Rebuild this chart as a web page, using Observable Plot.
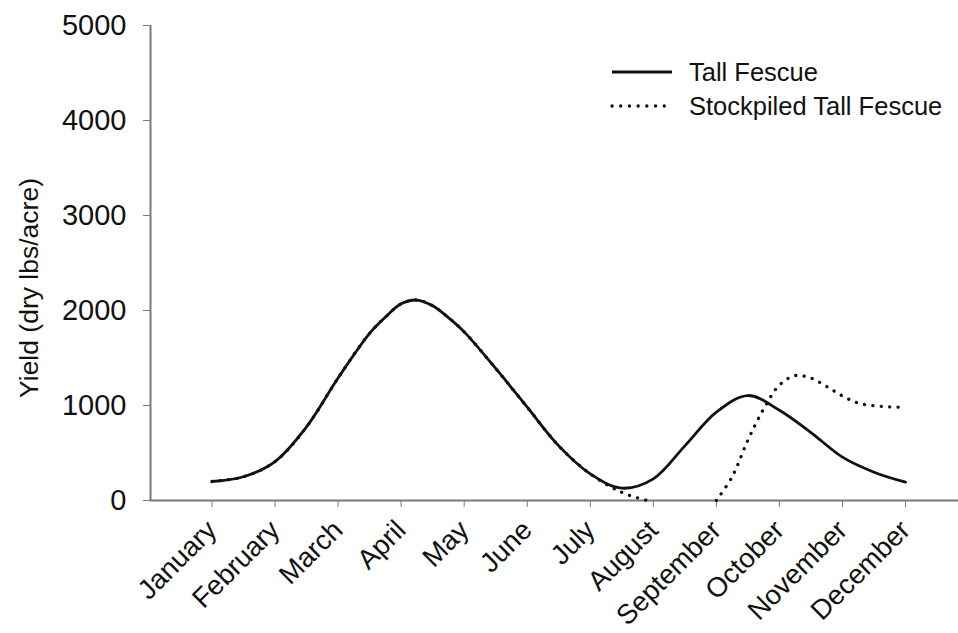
<!DOCTYPE html>
<html><head><meta charset="utf-8">
<script src="https://cdn.jsdelivr.net/npm/d3@7"></script>
<script src="https://cdn.jsdelivr.net/npm/@observablehq/plot@0.6"></script>
<style>
body{margin:0;background:#fff;}
#wrap{position:relative;width:958px;height:633px;font-family:"Liberation Sans",Arial,sans-serif;background:#fff;}
.leg{position:absolute;left:610px;height:30px;display:flex;align-items:center;font-size:25.5px;color:#111;white-space:nowrap;}
.leg svg{margin-right:17px;}
</style></head><body><div id="wrap"></div>
<script>
const months = ["January","February","March","April","May","June","July","August","September","October","November","December"];
const monthIndex = [1,2,3,4,5,6,7,8,9,10,11,12];
const yTicks = [0,1000,2000,3000,4000,5000];
const seriesNames = ["Tall Fescue","Stockpiled Tall Fescue"];
const yLabel = "Yield (dry lbs/acre)";

// Tall Fescue (x = month index, January = 1)
const tallX = [1,1.5,2,2.5,3,3.5,3.75,4,4.25,4.5,4.75,5,5.5,6,6.5,7,7.5,8,8.5,9,9.5,10,10.5,11,11.5,12];
const tallY = [200,250,410,775,1290,1760,1930,2070,2110,2050,1925,1775,1390,982,575,280,130,228,575,930,1105,950,715,456,298,193];

// Stockpiled Tall Fescue (null = gap between August and September)
const stockX = [1,1.5,2,2.5,3,3.5,3.75,4,4.25,4.5,4.75,5,5.5,6,6.5,7,7.5,7.9,8.5,9,9.25,9.5,9.75,10,10.25,10.5,10.75,11,11.25,11.5,11.75,12];
const stockY = [200,250,410,775,1290,1760,1930,2070,2110,2050,1925,1775,1390,982,575,280,85,0,null,0,250,635,965,1215,1315,1288,1200,1100,1025,998,985,982];

const xDomain = [0.025, 12.84];
const tall = tallX.map((x,i)=>({x, y: tallY[i]}));
const stock = stockX.map((x,i)=>({x, y: stockY[i] == null ? NaN : stockY[i]}));

const axisGray = "#7a7a7a";
const chart = Plot.plot({
  width: 958, height: 633,
  marginLeft: 150, marginRight: 0, marginTop: 25, marginBottom: 133,
  style: {fontFamily: '"Liberation Sans", Arial, sans-serif', background: "white", overflow: "visible"},
  x: {domain: xDomain, axis: null},
  y: {domain: [0, 5000], axis: null},
  marks: [
    Plot.axisY({ticks: yTicks, tickSize: 7, tickPadding: 17, fontSize: 29, stroke: axisGray, fill: "#111", label: null, tickFormat: d => String(d)}),
    Plot.axisX({ticks: monthIndex, tickFormat: d => months[d-1], tickRotate: -45, tickSize: 7, tickPadding: 18, fontSize: 27.5, stroke: axisGray, fill: "#111", label: null}),
    Plot.ruleY([0], {stroke: axisGray, strokeWidth: 2}),
    Plot.ruleX([xDomain[0]], {stroke: axisGray, strokeWidth: 2}),
    Plot.text([yLabel], {frameAnchor: "left", rotate: -90, textAnchor: "middle", lineAnchor: "middle", dx: -121, dy: 25, fontSize: 26.5, fill: "#111", text: d => d}),
    Plot.line(stock, {x: "x", y: "y", curve: "catmull-rom", stroke: "#111", strokeWidth: 3.3, strokeDasharray: "0.1 8.3", strokeLinecap: "round"}),
    Plot.line(tall, {x: "x", y: "y", curve: "catmull-rom", stroke: "#111", strokeWidth: 2.8})
  ]
});
const wrap = document.getElementById("wrap");
wrap.appendChild(chart);

function legRow(name, centerY, dashed){
  const row = document.createElement("div");
  row.className = "leg";
  row.style.top = (centerY - 15) + "px";
  const svg = d3.create("svg").attr("width", 62).attr("height", 10);
  svg.append("line").attr("x1", 2).attr("x2", 62).attr("y1", 5).attr("y2", 5)
    .attr("stroke", "#111").attr("stroke-width", dashed ? 3.3 : 2.8)
    .attr("stroke-linecap", dashed ? "round" : "butt")
    .attr("stroke-dasharray", dashed ? "0.1 8.6" : null);
  row.appendChild(svg.node());
  const span = document.createElement("span");
  span.textContent = name;
  row.appendChild(span);
  wrap.appendChild(row);
}
legRow(seriesNames[0], 72, false);
legRow(seriesNames[1], 106, true);
</script>
</body></html>
